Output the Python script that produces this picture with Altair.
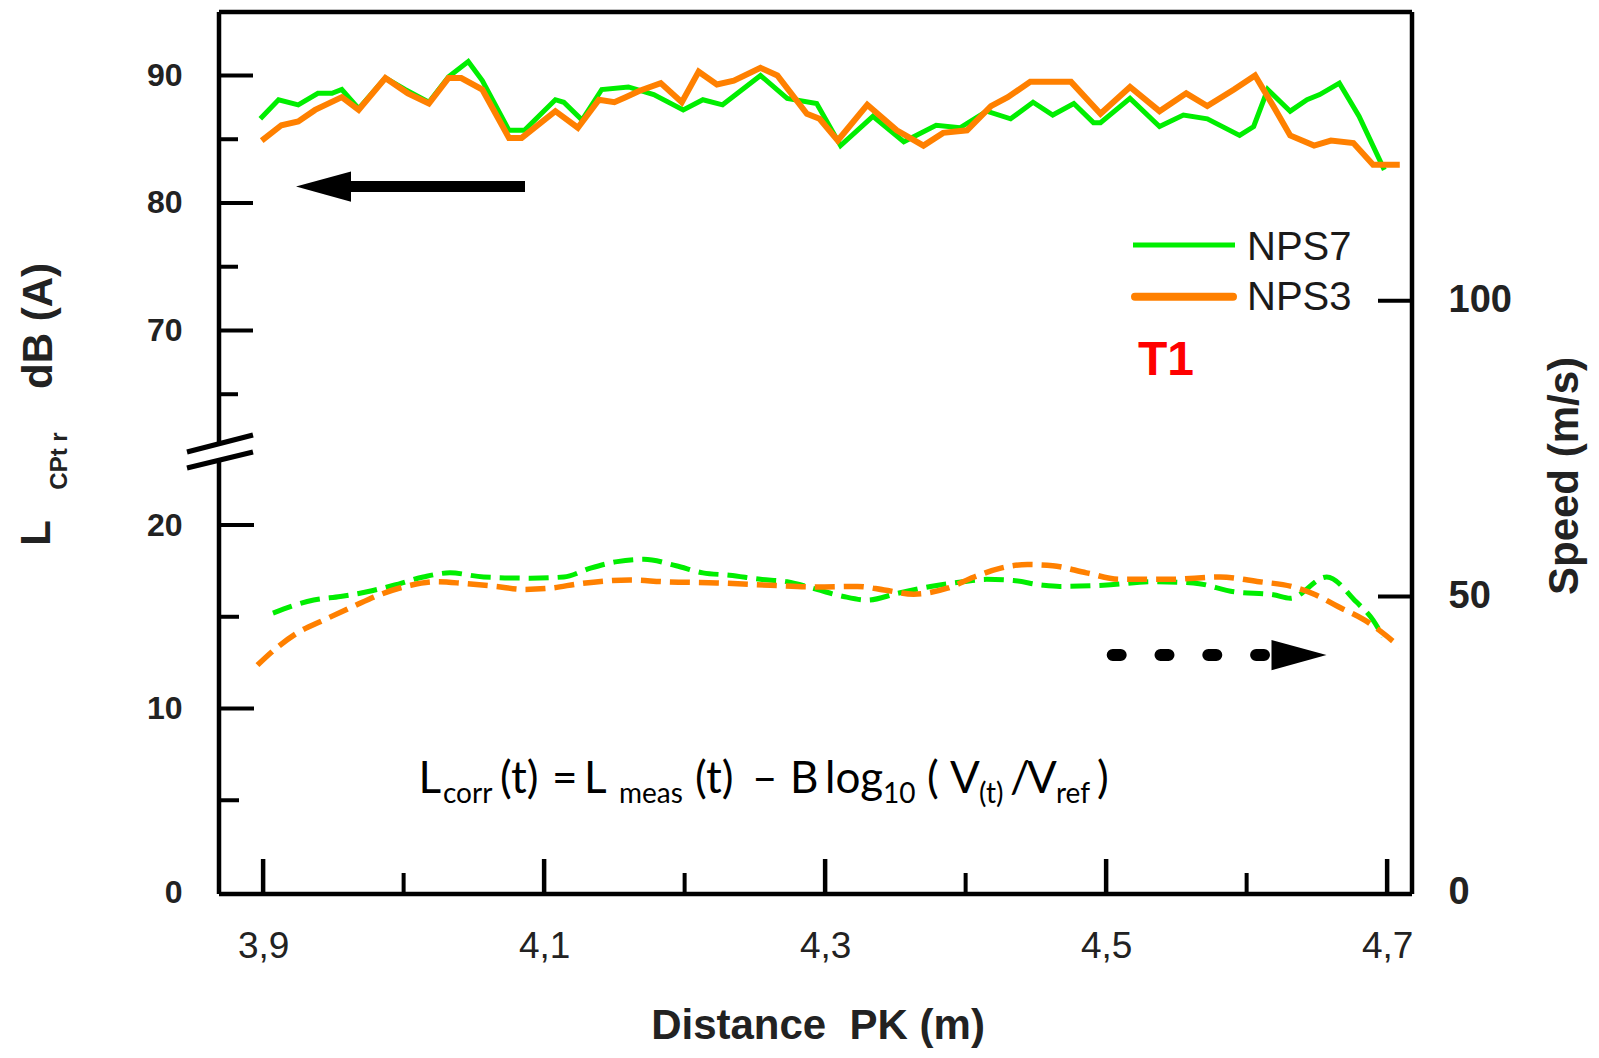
import altair as alt
import pandas as pd

# ---------------- data ----------------
nps7_dist = [3.898, 3.911, 3.925, 3.939, 3.949, 3.956, 3.968, 3.987, 4.001, 4.018,
             4.032, 4.046, 4.056, 4.075, 4.086, 4.108, 4.114, 4.127, 4.141, 4.160,
             4.178, 4.199, 4.213, 4.227, 4.254, 4.273, 4.294, 4.311, 4.334, 4.356,
             4.379, 4.396, 4.415, 4.432, 4.448, 4.462, 4.477, 4.491, 4.496, 4.517,
             4.538, 4.555, 4.572, 4.595, 4.605, 4.615, 4.631, 4.643, 4.652, 4.666,
             4.680, 4.698]
nps7_db = [86.6, 88.1, 87.7, 88.6, 88.6, 88.9, 87.4, 89.8, 88.9, 87.9,
           89.9, 91.1, 89.6, 85.7, 85.7, 88.1, 87.9, 86.5, 88.9, 89.1,
           88.5, 87.3, 88.1, 87.7, 90.0, 88.2, 87.8, 84.5, 86.8, 84.8,
           86.1, 85.9, 87.2, 86.6, 87.9, 86.9, 87.8, 86.3, 86.3, 88.2,
           86.0, 86.9, 86.6, 85.3, 86.0, 88.9, 87.2, 88.1, 88.5, 89.4,
           86.8, 82.6]

nps3_dist = [3.899, 3.913, 3.925, 3.937, 3.956, 3.968, 3.987, 4.003, 4.018, 4.032,
             4.041, 4.056, 4.075, 4.084, 4.108, 4.124, 4.139, 4.150, 4.158, 4.168,
             4.183, 4.198, 4.210, 4.223, 4.235, 4.254, 4.266, 4.287, 4.296, 4.309,
             4.330, 4.351, 4.370, 4.384, 4.401, 4.418, 4.430, 4.446, 4.475, 4.496,
             4.517, 4.538, 4.557, 4.572, 4.591, 4.606, 4.619, 4.631, 4.648, 4.660,
             4.676, 4.690, 4.709]
nps3_db = [84.9, 86.1, 86.4, 87.3, 88.3, 87.3, 89.8, 88.6, 87.8, 89.8,
           89.8, 88.9, 85.1, 85.1, 87.2, 85.9, 88.1, 87.9, 88.3, 88.8,
           89.4, 87.9, 90.3, 89.3, 89.6, 90.6, 90.0, 87.0, 86.6, 84.9,
           87.7, 85.7, 84.5, 85.5, 85.7, 87.6, 88.3, 89.5, 89.5, 87.0,
           89.1, 87.2, 88.6, 87.6, 88.9, 90.0, 87.6, 85.3, 84.5, 84.9,
           84.7, 83.0, 83.0]

nps7_speed_dist = [3.907, 3.936, 3.955, 3.974, 3.993, 4.014, 4.033, 4.057, 4.090, 4.114,
                   4.133, 4.152, 4.171, 4.194, 4.213, 4.232, 4.254, 4.273, 4.294, 4.313,
                   4.330, 4.351, 4.375, 4.398, 4.415, 4.434, 4.455, 4.467, 4.498, 4.534,
                   4.562, 4.591, 4.619, 4.631, 4.657, 4.678, 4.690, 4.697]
nps7_speed = [47.2, 49.4, 50.0, 50.8, 51.9, 53.3, 54.0, 53.3, 53.1, 53.3,
              54.8, 55.9, 56.3, 55.2, 54.0, 53.6, 52.9, 52.5, 51.2, 50.0,
              49.4, 50.5, 51.7, 52.5, 52.9, 52.7, 51.9, 51.7, 51.9, 52.5,
              52.3, 50.8, 50.3, 49.7, 53.3, 49.1, 46.0, 43.2]

nps3_speed_dist = [3.896, 3.909, 3.924, 3.943, 3.964, 3.983, 4.005, 4.024, 4.043, 4.066,
                   4.085, 4.104, 4.126, 4.161, 4.185, 4.223, 4.261, 4.294, 4.323, 4.342,
                   4.363, 4.387, 4.406, 4.425, 4.444, 4.462, 4.486, 4.510, 4.545, 4.581,
                   4.609, 4.632, 4.649, 4.665, 4.684, 4.709]
nps3_speed = [38.4, 41.2, 43.8, 46.0, 48.3, 50.3, 51.9, 52.5, 52.2, 51.7,
              51.2, 51.4, 52.2, 52.8, 52.5, 52.3, 51.9, 51.6, 51.7, 51.1,
              50.4, 51.4, 53.3, 54.8, 55.4, 55.2, 54.0, 52.9, 52.9, 53.3,
              52.5, 51.7, 50.3, 48.3, 46.0, 41.5]

x_labels = [3.9, 4.1, 4.3, 4.5, 4.7]
x_minor = [4.0, 4.2, 4.4, 4.6]
db_labels = [70, 80, 90]
db_minor = [65, 75, 85]
low_labels = [0, 10, 20]
low_major_marks = [10, 20]
low_minor = [5, 15]
speed_labels = [0, 50, 100]
speed_marks = [50, 100]

# ---------------- styling ----------------
GREEN = "#00EE00"
ORANGE = "#FF8000"
AX_FONT = "Liberation Sans, Arial, Helvetica, sans-serif"
EQ_FONT = "Lato, Open Sans, sans-serif"
W, H = 1193, 882

ONE = pd.DataFrame({"k": [0]})

X = alt.X("dist:Q",
          scale=alt.Scale(domain=[3.8686, 4.7177], nice=False, zero=False),
          axis=alt.Axis(values=x_labels,
                        labelExpr="replace(format(datum.value, '.1f'), '.', ',')",
                        ticks=False, domain=False, grid=False, labelFlush=False,
                        labelFont=AX_FONT, labelFontSize=37, labelColor="#222",
                        labelPadding=34, title=None))

Y_UP = alt.Y("db:Q",
             scale=alt.Scale(domain=[25.80, 94.98], nice=False, zero=False),
             axis=alt.Axis(orient="left", values=db_labels, ticks=False, domain=False,
                           grid=False, labelFont=AX_FONT, labelFontSize=32,
                           labelFontWeight="bold", labelColor="#222",
                           labelPadding=37, title=None))

Y_LOW = alt.Y("low:Q",
              scale=alt.Scale(domain=[-0.109, 47.96], nice=False, zero=False),
              axis=alt.Axis(orient="left", values=low_labels, ticks=False, domain=False,
                            grid=False, labelFont=AX_FONT, labelFontSize=32,
                            labelFontWeight="bold", labelColor="#222",
                            labelPadding=37, title=None))

Y_SPD = alt.Y("spd:Q",
              scale=alt.Scale(domain=[-0.287, 148.8], nice=False, zero=False),
              axis=alt.Axis(orient="right", values=speed_labels, ticks=False, domain=False,
                            grid=False, labelFont=AX_FONT, labelFontSize=38,
                            labelFontWeight="bold", labelColor="#222",
                            labelPadding=36, title=None))

df7 = pd.DataFrame({"dist": nps7_dist, "db": nps7_db})
df3 = pd.DataFrame({"dist": nps3_dist, "db": nps3_db})
ds7 = pd.DataFrame({"dist": nps7_speed_dist, "spd": nps7_speed})
ds3 = pd.DataFrame({"dist": nps3_speed_dist, "spd": nps3_speed})

# ---- upper (dB) layer ----
upper = alt.layer(
    alt.Chart(df7).mark_line(color=GREEN, strokeWidth=5).encode(x=X, y=Y_UP),
    alt.Chart(df3).mark_line(color=ORANGE, strokeWidth=6).encode(x=X, y=Y_UP),
    alt.Chart(pd.DataFrame({"db": db_labels})).mark_rule(color="black", strokeWidth=4)
        .encode(y=Y_UP, x=alt.value(0), x2=alt.value(34)),
    alt.Chart(pd.DataFrame({"db": db_minor})).mark_rule(color="black", strokeWidth=4)
        .encode(y=Y_UP, x=alt.value(0), x2=alt.value(19)),
)

# ---- speed layer ----
speed = alt.layer(
    alt.Chart(ds7).mark_line(color=GREEN, strokeWidth=5, strokeDash=[20, 9],
                             interpolate="monotone").encode(x=X, y=Y_SPD),
    alt.Chart(ds3).mark_line(color=ORANGE, strokeWidth=5.5, strokeDash=[20, 9],
                             interpolate="monotone").encode(x=X, y=Y_SPD),
    alt.Chart(pd.DataFrame({"spd": speed_marks})).mark_rule(color="black", strokeWidth=4)
        .encode(y=Y_SPD, x=alt.value(W), x2=alt.value(W - 34)),
)

# ---- lower left scale ----
lower = alt.layer(
    alt.Chart(pd.DataFrame({"low": low_major_marks})).mark_rule(color="black", strokeWidth=4)
        .encode(y=Y_LOW, x=alt.value(0), x2=alt.value(35)),
    alt.Chart(pd.DataFrame({"low": low_minor})).mark_rule(color="black", strokeWidth=4)
        .encode(y=Y_LOW, x=alt.value(0), x2=alt.value(20)),
)

# ---- x ticks ----
xticks = alt.layer(
    alt.Chart(pd.DataFrame({"dist": x_labels})).mark_rule(color="black", strokeWidth=4.5)
        .encode(x=X, y=alt.value(H), y2=alt.value(H - 35)),
    alt.Chart(pd.DataFrame({"dist": x_minor})).mark_rule(color="black", strokeWidth=4)
        .encode(x=X, y=alt.value(H), y2=alt.value(H - 21)),
)


def txt(s, x, y, size, weight="normal", color="#222", font=AX_FONT,
        align="left", baseline="alphabetic", angle=0):
    kw = dict(text=s, fontSize=size, fontWeight=weight, color=color, font=font,
              align=align, baseline=baseline)
    if angle:
        kw["angle"] = angle
    return alt.Chart(ONE).mark_text(**kw).encode(x=alt.value(x), y=alt.value(y))


def seg(x1, y1, x2, y2, width, color="black", dash=None, cap="butt"):
    kw = dict(color=color, strokeWidth=width, strokeCap=cap)
    if dash:
        kw["strokeDash"] = dash
    return alt.Chart(ONE).mark_rule(**kw).encode(
        x=alt.value(x1), y=alt.value(y1), x2=alt.value(x2), y2=alt.value(y2))


def head(x, y, path, size):
    return alt.Chart(ONE).mark_point(shape=path, size=size, filled=True, color="black",
                                     opacity=1, strokeWidth=0).encode(
        x=alt.value(x), y=alt.value(y))


# plot frame (drawn as marks so that it is thick and black)
frame = [
    seg(0, 0, W, 0, 4.5),
    seg(W, 0, W, H, 4.5),
    seg(0, H, W, H, 4.5),
    seg(0, 0, 0, H, 4.5),
]

annotations = [
    # axis break
    seg(0, 433, 0, 447, 9, color="white"),
    seg(-32, 440, 34, 423, 5),
    seg(-32, 456, 34, 440, 5),
    # solid arrow (left axis)
    seg(306, 174.6, 110, 174.6, 11),
    head(104.5, 174.6, "M-1,0L1,-0.55L1,0.55Z", 3025),
    # dashed arrow (right axis)
    seg(893.7, 643, 1045, 643, 12, dash=[8, 39.8], cap="round"),
    head(1080, 643, "M1,0L-1,-0.55L-1,0.55Z", 3025),
    # legend
    seg(914, 233, 1016, 233, 5, color=GREEN),
    seg(916, 284.7, 1014, 284.7, 8, color=ORANGE, cap="round"),
    txt("NPS7", 1028, 248, 40, color="#1a1a1a"),
    txt("NPS3", 1028, 298, 40, color="#1a1a1a"),
    txt("T1", 919, 363, 48, weight="bold", color="#FF0000"),
    # axis titles
    txt("Distance\u00a0\u00a0PK (m)", 599, 1014, 42, weight="bold", align="center", baseline="middle"),
    txt("Speed (m/s)", 1346, 464, 42, weight="bold", align="center", baseline="middle", angle=270),
    txt("dB (A)", -180, 314, 42, weight="bold", align="center", baseline="middle", angle=270),
    txt("L", -182, 521, 42, weight="bold", align="center", baseline="middle", angle=270),
    txt("CPt r", -159, 449, 24, weight="bold", align="center", baseline="middle", angle=270),
]

# formula
MAIN_Y, SUB_Y, MAIN_S, SUB_S = 781, 791, 44, 28
formula = [
    ("L", 199.5, 0), ("corr", 224, 1), ("(t)", 281, 0), ("=", 333, 0),
    ("L", 365, 0), ("meas", 400, 1), ("(t)", 476, 0), ("\u2013", 533, 0),
    ("B", 571, 0), ("log", 606, 0), ("10", 664, 1), ("(", 708, 0),
    ("V", 731, 0), ("(t)", 760, 1), ("/", 791, 0), ("V", 808, 0),
    ("ref", 837, 1), (")", 878, 0),
]
for s, x, sub in formula:
    annotations.append(txt(s, x, SUB_Y if sub else MAIN_Y, SUB_S if sub else MAIN_S,
                           color="#000", font=EQ_FONT))

chart = alt.layer(upper, speed, lower, xticks, *frame, *annotations).resolve_scale(
    y="independent"
).properties(
    width=W, height=H,
    background="white",
    autosize=alt.AutoSizeParams(type="none"),
    padding={"left": 211, "top": 4, "right": 178, "bottom": 156},
).configure_view(stroke=None)

chart.save("out.html", embed_options={"renderer": "svg", "actions": False})
